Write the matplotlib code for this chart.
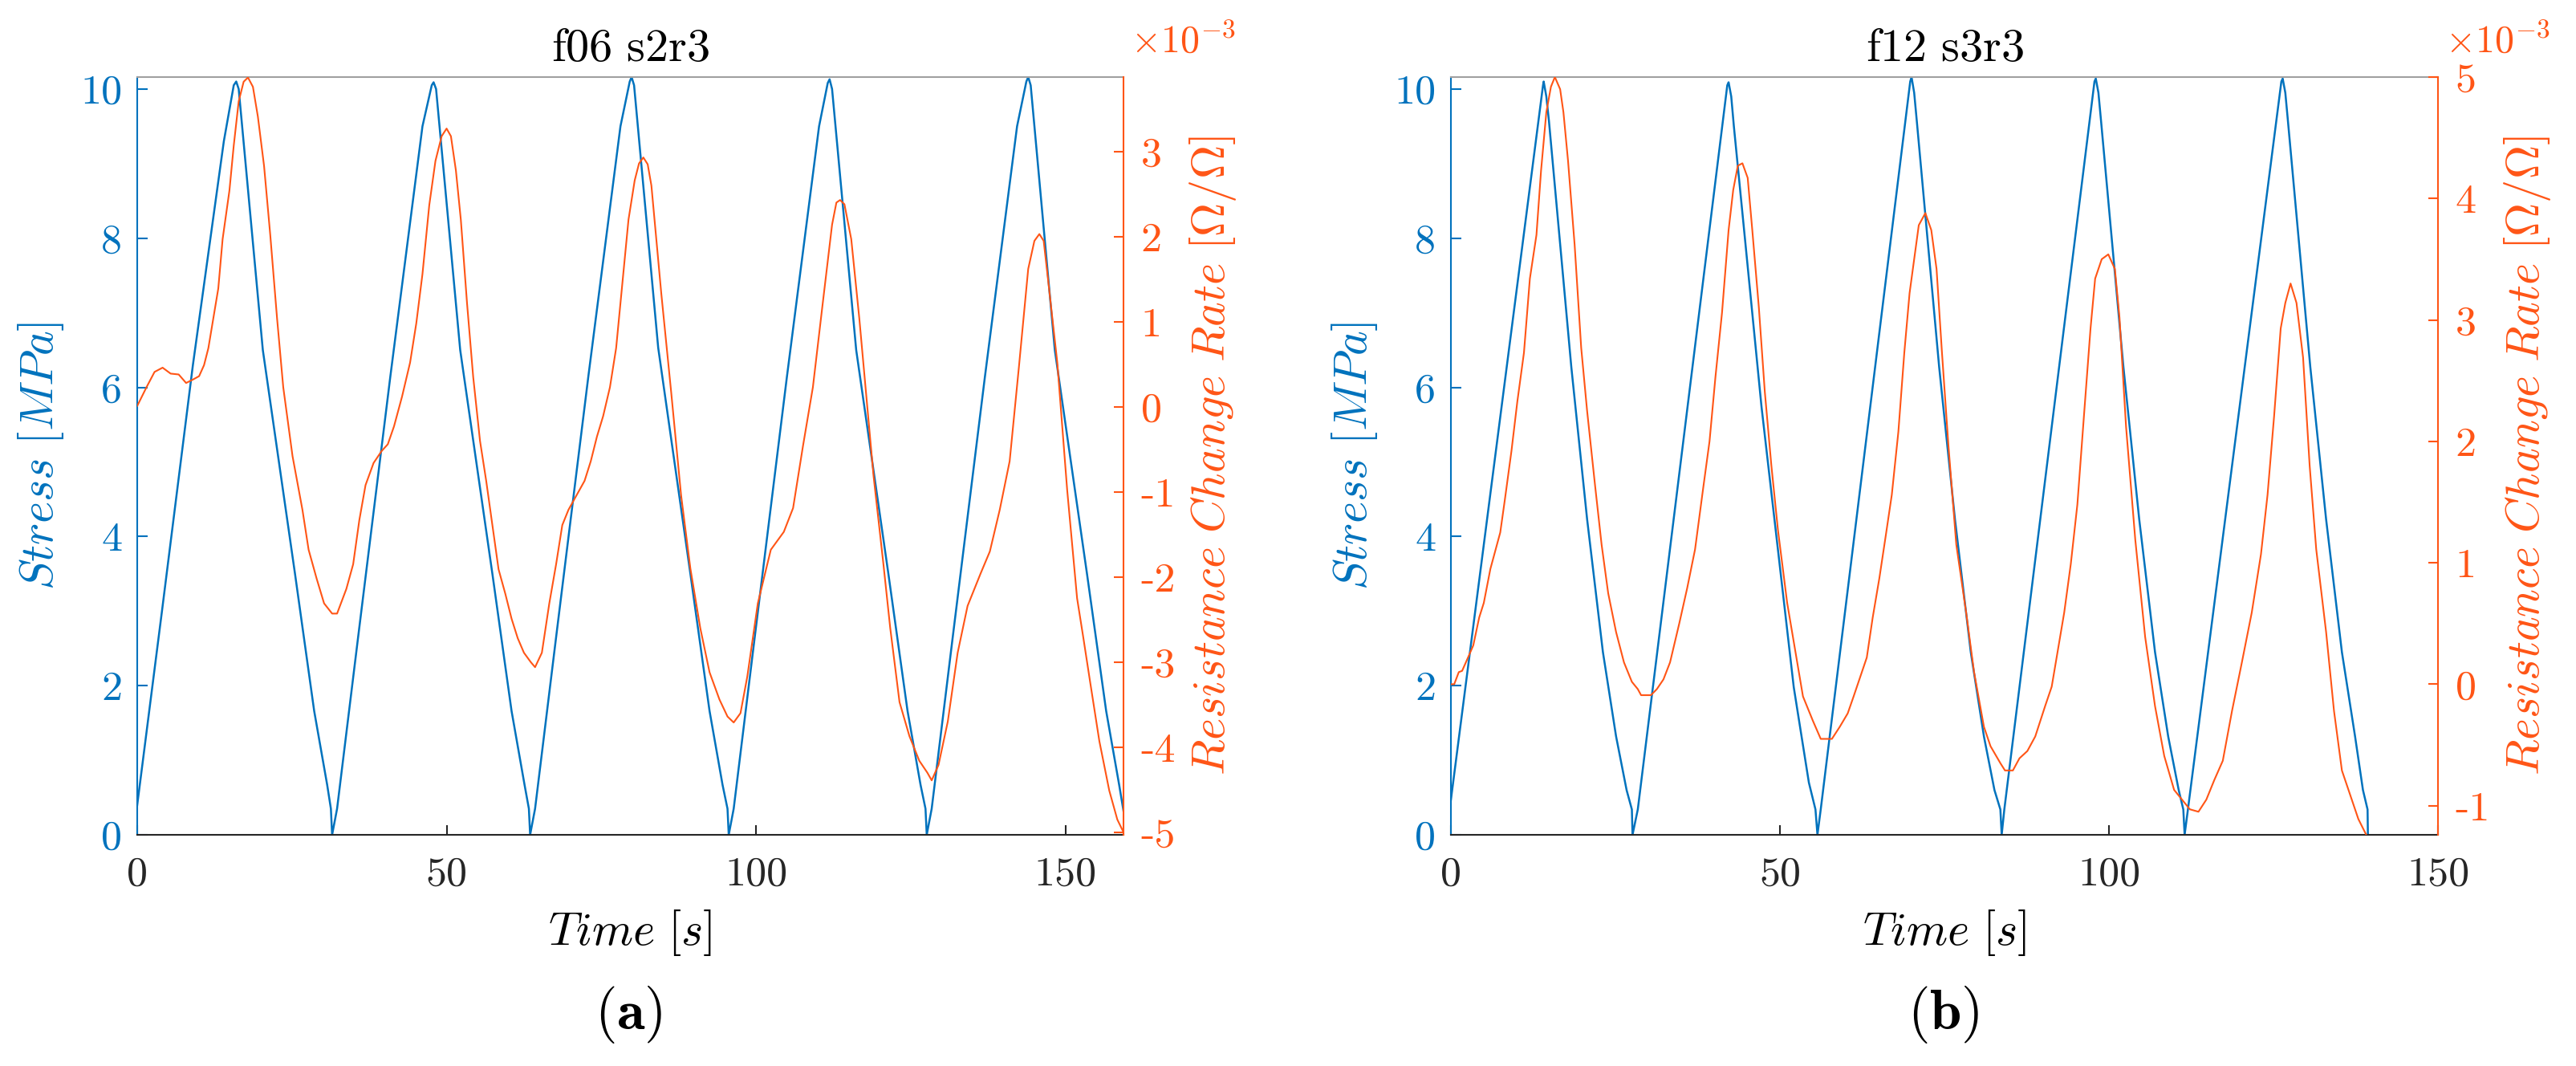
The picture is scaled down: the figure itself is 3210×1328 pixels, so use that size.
"""Stress vs. resistance change rate for two cyclic loading tests (f06 s2r3, f12 s3r3)."""

import matplotlib

matplotlib.use("Agg")
import matplotlib.pyplot as plt


plt.rcParams["mathtext.fontset"] = "cm"
plt.rcParams["axes.unicode_minus"] = False

BLUE = "#0072BD"
ORANGE = "#FF5516"
AXIS_DARK = "#262626"
BOX_GREY = "#A0A0A0"

# ---- data --------------------------------------------------------------
# (time [s], stress [MPa])
STRESS_A = [
    (0, 0.4), (4.0, 3.0), (9.0, 6.3), (14.0, 9.3), (15.6, 10.05), (16.0, 10.1), (16.4, 10.0),
    (20.3, 6.5), (25.5, 3.5), (28.6, 1.66), (30.7, 0.67), (31.3, 0.35), (31.5, 0.0), (32.3, 0.35),
    (35.7, 2.65), (40.9, 6.14), (46.1, 9.5), (47.6, 10.05), (47.9, 10.09), (48.3, 10.0),
    (52.2, 6.5), (57.4, 3.5), (60.5, 1.66), (62.6, 0.67), (63.3, 0.35), (63.5, 0.0), (64.3, 0.35),
    (67.7, 2.65), (72.9, 6.14), (78.1, 9.5), (79.6, 10.1), (79.9, 10.16), (80.3, 10.05),
    (84.2, 6.53), (89.4, 3.5), (92.5, 1.66), (94.6, 0.67), (95.4, 0.35), (95.6, 0.0), (96.4, 0.35),
    (99.8, 2.65), (105.0, 6.14), (110.2, 9.5), (111.6, 10.08), (111.9, 10.13), (112.3, 10.0),
    (116.2, 6.5), (121.4, 3.5), (124.5, 1.66), (126.6, 0.67), (127.4, 0.35), (127.6, 0.0), (128.4, 0.35),
    (131.8, 2.65), (137.0, 6.14), (142.2, 9.5), (143.7, 10.1), (144.0, 10.16), (144.4, 10.05),
    (148.3, 6.5), (153.5, 3.5), (156.6, 1.66), (158.7, 0.67), (159.4, 0.32),
]

# (time [s], resistance change rate [x1e-3 Ohm/Ohm])
RES_A = [
    (0, 0.01), (1.5, 0.23), (2.8, 0.41), (4.1, 0.46), (5.4, 0.39), (6.7, 0.38), (7.9, 0.28),
    (9.0, 0.32), (10.0, 0.36), (10.8, 0.49), (11.5, 0.69), (12.3, 1.04), (13.1, 1.39),
    (13.8, 1.97), (14.9, 2.54), (15.6, 3.07), (16.4, 3.59), (17.2, 3.82), (17.9, 3.87),
    (18.7, 3.76), (19.5, 3.41), (20.5, 2.83), (21.5, 2.02), (22.6, 1.04), (23.6, 0.23),
    (25.1, -0.58), (26.7, -1.21), (27.7, -1.68), (29.0, -2.02), (30.2, -2.31), (31.5, -2.43),
    (32.3, -2.43), (33.8, -2.14), (34.9, -1.85), (35.9, -1.33), (36.9, -0.92), (38.2, -0.66),
    (39.5, -0.52), (40.5, -0.44), (41.5, -0.23), (42.8, 0.12), (44.1, 0.52), (45.1, 0.98),
    (46.1, 1.56), (47.2, 2.37), (48.2, 2.89), (49.2, 3.18), (50.0, 3.27), (50.7, 3.18),
    (51.5, 2.78), (52.3, 2.2), (53.3, 1.22), (54.3, 0.35), (55.4, -0.4), (56.4, -0.87),
    (57.4, -1.39), (58.4, -1.91), (59.5, -2.2), (60.5, -2.49), (61.5, -2.72), (62.5, -2.89),
    (63.6, -3.0), (64.3, -3.06), (65.4, -2.89), (66.6, -2.31), (67.7, -1.85), (68.7, -1.39),
    (69.7, -1.21), (71.0, -1.04), (72.3, -0.87), (73.3, -0.64), (74.3, -0.35), (75.3, -0.11),
    (76.4, 0.23), (77.4, 0.69), (78.4, 1.45), (79.4, 2.2), (80.4, 2.66), (81.1, 2.86),
    (81.8, 2.93), (82.5, 2.85), (83.1, 2.6), (84.7, 1.33), (86.3, 0.17), (87.9, -1.04),
    (89.4, -1.9), (91.0, -2.6), (92.5, -3.12), (94.1, -3.44), (95.4, -3.64), (96.4, -3.71),
    (97.5, -3.6), (98.6, -3.17), (100.3, -2.31), (102.4, -1.68), (104.5, -1.47), (106.0, -1.19),
    (107.6, -0.46), (109.2, 0.23), (110.7, 1.16), (112.3, 2.14), (113.0, 2.4), (113.6, 2.43),
    (114.3, 2.38), (115.4, 1.97), (116.7, 1.04), (118.0, 0.0), (119.0, -0.81), (120.6, -1.85),
    (121.7, -2.6), (123.2, -3.47), (124.8, -3.87), (126.4, -4.16), (127.7, -4.3), (128.4, -4.39),
    (129.5, -4.21), (131.0, -3.7), (132.6, -2.89), (134.2, -2.34), (136.3, -1.96), (137.8, -1.7),
    (139.4, -1.21), (141.0, -0.64), (142.5, 0.47), (144.0, 1.62), (145.0, 1.95), (145.8, 2.03),
    (146.5, 1.95), (147.2, 1.5), (148.7, 0.52), (150.3, -0.98), (151.9, -2.25), (152.9, -2.71),
    (154.0, -3.23), (155.5, -3.93), (157.1, -4.51), (158.4, -4.85), (159.4, -5.0),
]

STRESS_B = [
    (0, 0.47), (14.0, 10.05), (14.1, 10.1), (14.5, 9.9), (14.9, 9.57), (18.3, 6.27), (20.7, 4.23),
    (23.1, 2.45), (25.1, 1.32), (26.7, 0.6), (27.5, 0.34), (27.6, 0.0), (28.4, 0.34),
    (42.0, 10.05), (42.2, 10.09), (42.6, 9.9), (43.0, 9.5), (47.2, 5.74), (52.1, 1.98),
    (54.4, 0.7), (55.4, 0.34), (55.7, 0.0), (56.2, 0.34),
    (69.8, 10.1), (70.0, 10.16), (70.4, 9.95), (70.8, 9.57), (74.2, 6.27), (76.6, 4.23),
    (79.0, 2.45), (81.0, 1.32), (82.6, 0.6), (83.5, 0.34), (83.7, 0.0), (84.1, 0.34),
    (97.8, 10.1), (98.0, 10.14), (98.4, 9.95), (98.8, 9.57), (102.2, 6.27), (104.6, 4.23),
    (107.0, 2.45), (109.0, 1.32), (110.6, 0.6), (111.3, 0.34), (111.5, 0.0), (112.0, 0.34),
    (126.2, 10.1), (126.4, 10.14), (126.8, 9.95), (127.2, 9.57), (130.6, 6.27), (133.0, 4.23),
    (135.4, 2.45), (137.4, 1.32), (138.6, 0.6), (139.3, 0.34), (139.35, 0.0),
]

RES_B = [
    (0.0, 0.0), (0.5, 0.0), (1.2, 0.1), (1.7, 0.11), (2.6, 0.22), (3.4, 0.32), (4.3, 0.55),
    (5.0, 0.67), (6.0, 0.95), (7.5, 1.25), (8.2, 1.52), (9.2, 1.92), (10.1, 2.33), (11.1, 2.73),
    (12.0, 3.34), (13.0, 3.7), (13.7, 4.23), (14.5, 4.71), (15.2, 4.92), (15.8, 5.0), (16.6, 4.9),
    (17.1, 4.71), (17.8, 4.31), (18.8, 3.62), (19.8, 2.77), (20.7, 2.25), (21.9, 1.64),
    (22.9, 1.15), (23.9, 0.75), (25.1, 0.43), (26.3, 0.18), (27.5, 0.02), (28.4, -0.04),
    (28.9, -0.09), (30.4, -0.09), (31.3, -0.04), (32.3, 0.04), (33.3, 0.18), (34.7, 0.5),
    (35.9, 0.79), (37.1, 1.11), (38.3, 1.6), (39.3, 2.0), (40.2, 2.53), (41.2, 3.06), (42.2, 3.74),
    (42.9, 4.07), (43.6, 4.27), (44.3, 4.29), (45.1, 4.17), (45.8, 3.74), (46.8, 3.1), (47.7, 2.41),
    (48.7, 1.8), (49.7, 1.27), (51.1, 0.67), (52.1, 0.35), (53.5, -0.1), (55.0, -0.3),
    (56.2, -0.45), (57.9, -0.45), (59.1, -0.35), (60.3, -0.24), (61.2, -0.1), (62.2, 0.06),
    (63.2, 0.22), (64.1, 0.55), (65.1, 0.87), (66.1, 1.23), (67.0, 1.56), (68.0, 2.08),
    (68.9, 2.73), (69.7, 3.22), (70.4, 3.5), (71.1, 3.78), (72.1, 3.88), (73.0, 3.74),
    (73.8, 3.42), (74.6, 2.75), (75.6, 1.97), (76.8, 1.15), (78.3, 0.59), (79.5, 0.1),
    (81.0, -0.35), (82.0, -0.51), (83.5, -0.65), (84.2, -0.71), (85.4, -0.71), (86.4, -0.61),
    (87.6, -0.55), (88.8, -0.43), (90.3, -0.18), (91.3, -0.02), (92.3, 0.3), (93.2, 0.59),
    (94.2, 0.99), (95.2, 1.48), (96.2, 2.21), (97.2, 2.93), (97.9, 3.34), (98.9, 3.5),
    (99.9, 3.54), (100.9, 3.42), (101.6, 3.02), (102.6, 2.12), (104.0, 1.19), (105.5, 0.39),
    (107.0, -0.18), (108.4, -0.59), (109.9, -0.87), (111.1, -0.95), (112.3, -1.03),
    (113.6, -1.05), (114.8, -0.95), (116.0, -0.79), (117.3, -0.63), (118.7, -0.22), (120.2, 0.18),
    (121.7, 0.59), (123.1, 1.07), (124.1, 1.56), (125.1, 2.21), (126.1, 2.93), (126.8, 3.14),
    (127.6, 3.3), (128.5, 3.14), (129.5, 2.69), (130.5, 1.8), (131.5, 1.11), (133.0, 0.43),
    (134.2, -0.22), (135.4, -0.71), (136.9, -0.95), (137.9, -1.11), (139.1, -1.24),
]

TITLES = ["f06 s2r3", "f12 s3r3"]
TAGS = ["a", "b"]
X_TICKS = [0, 50, 100, 150]
STRESS_TICKS = [0, 2, 4, 6, 8, 10]
RES_TICKS_A = [-5, -4, -3, -2, -1, 0, 1, 2, 3]
RES_TICKS_B = [-1, 0, 1, 2, 3, 4, 5]


def draw_panel(fig, rect, title, stress, res, xmax, rlim, rticks, tag, tag_x):
    ax = fig.add_axes(rect)
    ax2 = ax.twinx()

    ts, s = zip(*stress)
    tr, r = zip(*res)
    ax.plot(ts, s, color=BLUE, lw=0.6)
    ax2.plot(tr, r, color=ORANGE, lw=0.5)

    ax.set_xlim(0, xmax)
    ax.set_ylim(0, 10.16)
    ax2.set_ylim(*rlim)
    ax.set_xticks(X_TICKS)
    ax.set_yticks(STRESS_TICKS)
    ax2.set_yticks(rticks)

    for sp in ax.spines.values():
        sp.set_linewidth(0.5)
    for sp in ax2.spines.values():
        sp.set_visible(False)
    ax.spines["left"].set_color(BLUE)
    ax.spines["bottom"].set_color(AXIS_DARK)
    ax.spines["top"].set_color(BOX_GREY)
    ax.spines["right"].set_visible(False)
    ax2.spines["right"].set_visible(True)
    ax2.spines["right"].set_color(ORANGE)
    ax2.spines["right"].set_linewidth(0.5)

    ax.tick_params(axis="x", direction="in", length=3, width=0.5, color=AXIS_DARK,
                   labelcolor=AXIS_DARK, labelsize=12.5, pad=6.5, top=False,
                   labelfontfamily="cmr10")
    ax.tick_params(axis="y", direction="in", length=3, width=0.5, color=BLUE,
                   labelcolor=BLUE, labelsize=12.5, pad=4.5, right=False,
                   labelfontfamily="cmr10")
    ax2.tick_params(axis="y", direction="in", length=3, width=0.5, color=ORANGE,
                    labelcolor=ORANGE, labelsize=12.5, pad=5.2, left=False,
                    labelfontfamily="cmr10")

    ax.set_title(r"$\mathrm{" + title.replace(" ", r"\ ") + "}$", fontsize=14, pad=4.8)
    ax.set_xlabel(r"$Time\ [s]$", fontsize=14, color="black")
    ax.set_ylabel(r"$Stress\ [MPa]$", fontsize=14, color=BLUE)
    ax2.set_ylabel(r"$Resistance\ Change\ Rate\ [\Omega/\Omega]$", fontsize=14, color=ORANGE)
    ax.xaxis.set_label_coords(0.5, -0.0964)
    ax.yaxis.set_label_coords(-0.0724, 0.5)
    ax2.yaxis.set_label_coords(1.065, 0.5)

    ax2.text(1.007, 1.033, r"$\times10^{-3}$", transform=ax2.transAxes, ha="left",
             va="baseline", fontsize=11.5, color=ORANGE)

    fig.text(tag_x, 0.0482, r"$(\mathbf{" + tag + "})$", ha="center", va="center",
             fontsize=17, color="black")
    return ax, ax2


def main() -> None:
    fig = plt.figure(figsize=(10.7, 4.42667), dpi=300)
    draw_panel(fig, [0.05327, 0.21687, 0.38287, 0.71084], TITLES[0], STRESS_A, RES_A,
               159.4, (-5.03, 3.875), RES_TICKS_A, TAGS[0], 0.2439)
    draw_panel(fig, [0.56324, 0.21687, 0.38318, 0.71084], TITLES[1], STRESS_B, RES_B,
               150, (-1.24, 5.0), RES_TICKS_B, TAGS[1], 0.7545)
    fig.savefig("out.png", dpi=300)
    plt.close(fig)


if __name__ == "__main__":
    main()
